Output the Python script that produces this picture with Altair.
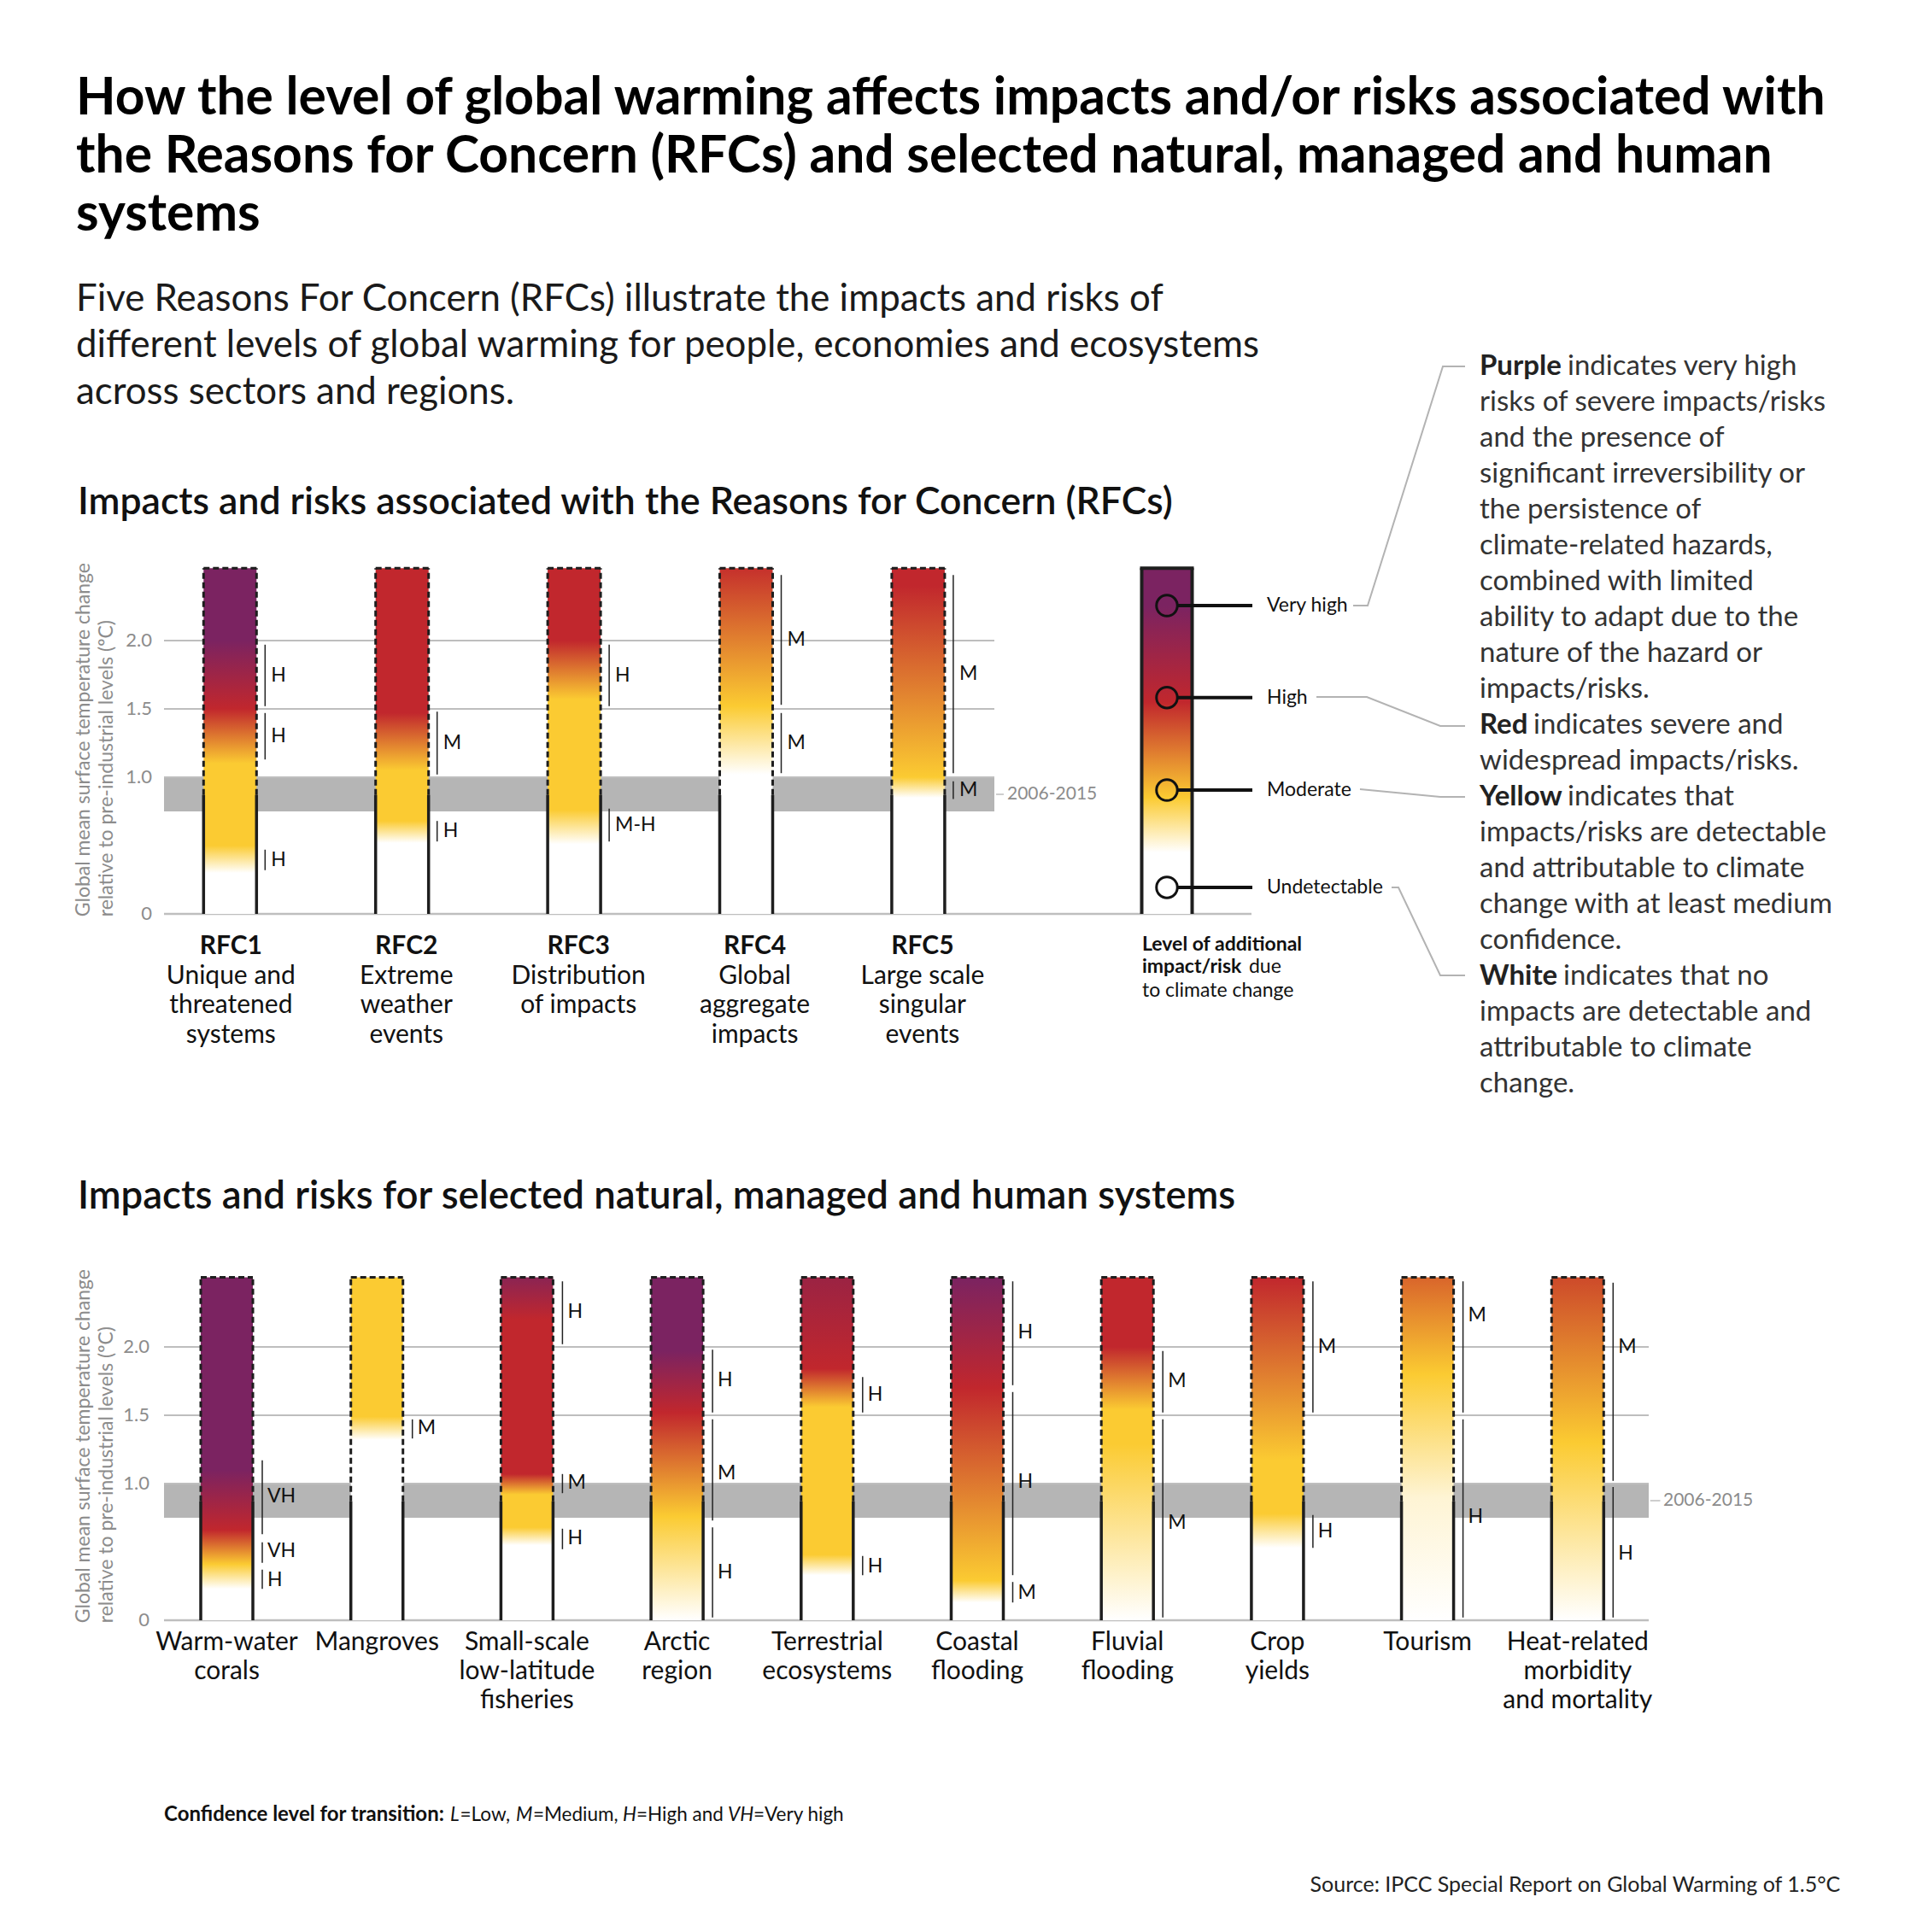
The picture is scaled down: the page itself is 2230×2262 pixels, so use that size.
import altair as alt
import pandas as pd

# ---------------- colours ----------------
PURPLE, RED, YELLOW, WHITE = "#7B2361", "#C1272D", "#FBCB32", "#FFFFFF"
INK = "#1E1E1E"
GREY = "#8C8C8C"
FONT = "Lato"

# ---------------- text ----------------
title_lines = [
    "How the level of global warming affects impacts and/or risks associated with",
    "the Reasons for Concern (RFCs) and selected natural, managed and human",
    "systems",
]
subtitle_lines = [
    "Five Reasons For Concern (RFCs) illustrate the impacts and risks of",
    "different levels of global warming for people, economies and ecosystems",
    "across sectors and regions.",
]
heading_top = "Impacts and risks associated with the Reasons for Concern (RFCs)"
heading_bottom = "Impacts and risks for selected natural, managed and human systems"
ytitle_lines = ["Global mean surface temperature change", "relative to pre-industrial levels (ºC)"]

# ---------------- axis ----------------
TICKS = [0.0, 1.0, 1.5, 2.0]
TICK_LABELS = ["0", "1.0", "1.5", "2.0"]
BAND = (0.75, 1.0)
BAND_LABEL = "2006-2015"
DASH_FROM = 0.87

# ---------------- Reasons for Concern ----------------
rfc_ids = ["RFC1", "RFC2", "RFC3", "RFC4", "RFC5"]
rfc_names = [["Unique and", "threatened", "systems"], ["Extreme", "weather", "events"],
             ["Distribution", "of impacts"], ["Global", "aggregate", "impacts"],
             ["Large scale", "singular", "events"]]
rfc_label_shift = [0.005, 0.025, 0.025, 0.05, 0.025]
RFC_TOP = 2.53
rfc_stops = [
    [(0.0, WHITE), (0.30, WHITE), (0.50, YELLOW), (1.10, YELLOW), (1.50, RED), (2.00, PURPLE), (2.53, PURPLE)],
    [(0.0, WHITE), (0.52, WHITE), (0.68, YELLOW), (1.05, YELLOW), (1.47, RED), (2.53, RED)],
    [(0.0, WHITE), (0.51, WHITE), (0.76, YELLOW), (1.57, YELLOW), (2.00, RED), (2.53, RED)],
    [(0.0, WHITE), (1.02, WHITE), (1.52, YELLOW), (2.53, "#C5302C")],
    [(0.0, WHITE), (0.85, WHITE), (1.00, YELLOW), (2.40, RED), (2.53, RED)],
]
rfc_conf = [
    [(1.52, 1.97, "H"), (1.13, 1.47, "H"), (0.32, 0.47, "H")],
    [(1.02, 1.48, "M"), (0.53, 0.68, "H")],
    [(1.52, 1.97, "H"), (0.53, 0.77, "M-H")],
    [(1.53, 2.48, "M"), (1.03, 1.47, "M")],
    [(1.03, 2.48, "M"), (0.84, 0.97, "M")],
]

# ---------------- selected systems ----------------
sys_names = [["Warm-water", "corals"], ["Mangroves"], ["Small-scale", "low-latitude", "fisheries"],
             ["Arctic", "region"], ["Terrestrial", "ecosystems"], ["Coastal", "flooding"],
             ["Fluvial", "flooding"], ["Crop", "yields"], ["Tourism"],
             ["Heat-related", "morbidity", "and mortality"]]
SYS_TOP = 2.51
sys_stops = [
    [(0.0, WHITE), (0.23, WHITE), (0.41, YELLOW), (0.66, RED), (1.10, PURPLE), (2.51, PURPLE)],
    [(0.0, WHITE), (1.32, WHITE), (1.49, YELLOW), (2.51, YELLOW)],
    [(0.0, WHITE), (0.55, WHITE), (0.68, YELLOW), (0.92, YELLOW), (1.07, RED), (2.20, RED), (2.51, "#8B2453")],
    [(0.0, WHITE), (0.76, YELLOW), (1.52, RED), (1.97, PURPLE), (2.51, PURPLE)],
    [(0.0, WHITE), (0.33, WHITE), (0.48, YELLOW), (1.56, YELLOW), (1.84, RED), (2.51, "#9B2343")],
    [(0.0, WHITE), (0.13, WHITE), (0.29, YELLOW), (1.70, RED), (2.51, PURPLE)],
    [(0.0, WHITE), (1.29, YELLOW), (1.54, YELLOW), (2.00, RED), (2.51, RED)],
    [(0.0, WHITE), (0.53, WHITE), (0.78, YELLOW), (1.17, YELLOW), (2.51, RED)],
    [(0.0, WHITE), (0.90, "#FEF4D4"), (1.80, YELLOW), (2.51, "#D9652B")],
    [(0.0, WHITE), (1.30, YELLOW), (2.51, "#CD4A2A")],
]
sys_conf = [
    [(0.63, 1.17, "VH", 0.906), (0.42, 0.57, "VH", 0.507), (0.23, 0.37, "H", 0.295)],
    [(1.33, 1.47, "M", 1.406)],
    [(2.02, 2.48, "H", 2.258), (0.93, 1.07, "M", 1.005), (0.52, 0.67, "H", 0.60)],
    [(1.52, 1.98, "H", 1.758), (0.73, 1.47, "M", 1.074), (0.02, 0.68, "H", 0.353)],
    [(1.52, 1.78, "H", 1.65), (0.33, 0.47, "H", 0.394)],
    [(1.72, 2.48, "H", 2.104), (0.33, 1.67, "H", 1.01), (0.13, 0.28, "M", 0.203)],
    [(1.52, 1.97, "M", 1.747), (0.02, 1.47, "M", 0.71)],
    [(1.52, 2.48, "M", 2.0), (0.53, 0.77, "H", 0.653)],
    [(1.52, 2.48, "M", 2.23), (0.02, 1.47, "H", 0.756)],
    [(1.02, 2.47, "M", 2.0), (0.02, 0.975, "H", 0.49)],
]

# ---------------- legend ----------------
legend_levels = ["Very high", "High", "Moderate", "Undetectable"]
legend_level_t = [2.256, 1.583, 0.906, 0.194]
legend_stops = [(0.0, WHITE), (0.45, WHITE), (0.85, YELLOW), (1.55, RED), (2.25, PURPLE), (2.53, PURPLE)]
legend_caption = [("Level of additional", True), ("impact/risk", True), ("due", False), ("to climate change", False)]

desc_lines = [
    "Purple indicates very high", "risks of severe impacts/risks", "and the presence of",
    "significant irreversibility or", "the persistence of", "climate-related hazards,",
    "combined with limited", "ability to adapt due to the", "nature of the hazard or",
    "impacts/risks.", "Red indicates severe and", "widespread impacts/risks.",
    "Yellow indicates that", "impacts/risks are detectable", "and attributable to climate",
    "change with at least medium", "confidence.", "White indicates that no",
    "impacts are detectable and", "attributable to climate", "change.",
]
desc_bold = {0: "Purple", 10: "Red", 12: "Yellow", 17: "White"}

footnote_parts = [("Confidence level  for transition:", "bold", "normal", 24), ("L", "normal", "italic", 22.5),
                  ("=Low,", "normal", "normal", 22.5), ("M", "normal", "italic", 22.5),
                  ("=Medium,", "normal", "normal", 22.5), ("H", "normal", "italic", 22.5),
                  ("=High and", "normal", "normal", 22.5), ("VH", "normal", "italic", 22.5),
                  ("=Very high", "normal", "normal", 22.5)]
source_text = "Source: IPCC Special Report on Global Warming of 1.5°C"

# ---------------- scales (panel units: bar slot, °C) ----------------
W, H = 2214, 2246
TX = alt.Scale(domain=[-1.29742, 9.69563], nice=False, zero=False)
TY = alt.Scale(domain=[-7.4, 6.6375], nice=False, zero=False)
BX = alt.Scale(domain=[-1.4656, 11.1355], nice=False, zero=False)
BY = alt.Scale(domain=[-2.23125, 11.80625], nice=False, zero=False)

layers = []


def X(s):
    return alt.X("x:Q", scale=s, axis=None)


def Y(s):
    return alt.Y("y:Q", scale=s, axis=None)


def rects(df, xs, ys, **mk):
    return alt.Chart(df).mark_rect(**mk).encode(x=X(xs), x2=alt.X2("x2:Q"), y=Y(ys), y2=alt.Y2("y2:Q"))


def vrules(df, xs, ys, **mk):
    return alt.Chart(df).mark_rule(**mk).encode(x=X(xs), y=Y(ys), y2=alt.Y2("y2:Q"))


def hrules(df, xs, ys, **mk):
    return alt.Chart(df).mark_rule(**mk).encode(x=X(xs), x2=alt.X2("x2:Q"), y=Y(ys))


def texts(df, xs, ys, **mk):
    mk.setdefault("font", FONT)
    return alt.Chart(df).mark_text(**mk).encode(x=X(xs), y=Y(ys), text=alt.Text("t:N"))


def gradient(stops, top):
    return alt.Gradient(gradient="linear", x1=0, x2=0, y1=1, y2=0,
                        stops=[alt.GradientStop(offset=round(t / top, 4), color=c) for t, c in stops])


def panel(xs, ys, stops_list, top_t, confs, hw, line_off, text_off, x_left, x_right, x_base,
          tick_x, band_lab_x, ytitle_x, heading, heading_x, heading_y, heading_size):
    n = len(stops_list)
    layers.append(rects(pd.DataFrame({"x": [x_left], "x2": [x_right], "y": [BAND[0]], "y2": [BAND[1]]}),
                        xs, ys, color="#B5B5B5"))
    layers.append(hrules(pd.DataFrame({"x": [x_left] * 3, "x2": [x_right] * 3, "y": TICKS[1:]}),
                         xs, ys, color="#BEBEBE", strokeWidth=2))
    layers.append(hrules(pd.DataFrame({"x": [x_left], "x2": [x_base], "y": [0.0]}),
                         xs, ys, color="#BEBEBE", strokeWidth=2.5))
    layers.append(texts(pd.DataFrame({"x": [tick_x] * 4, "y": TICKS, "t": TICK_LABELS}), xs, ys,
                        align="right", baseline="middle", fontSize=22, color=GREY))
    mid = (BAND[0] + BAND[1]) / 2
    layers.append(hrules(pd.DataFrame({"x": [x_right + 0.01], "x2": [band_lab_x - 0.02], "y": [mid]}),
                         xs, ys, color="#BEBEBE", strokeWidth=1.5))
    layers.append(texts(pd.DataFrame({"x": [band_lab_x], "y": [mid], "t": [BAND_LABEL]}), xs, ys,
                        align="left", baseline="middle", fontSize=21, color=GREY))
    layers.append(texts(pd.DataFrame({"x": ytitle_x, "y": [-0.02, -0.02], "t": ytitle_lines}), xs, ys,
                        align="left", baseline="middle", angle=270, fontSize=23, color=GREY))
    layers.append(texts(pd.DataFrame({"x": [heading_x], "y": [heading_y], "t": [heading]}), xs, ys,
                        align="left", baseline="middle", fontSize=heading_size, fontWeight=600, color="#111111"))
    for i, stops in enumerate(stops_list):
        layers.append(rects(pd.DataFrame({"x": [i - hw], "x2": [i + hw], "y": [0.0], "y2": [top_t]}),
                            xs, ys, fill=gradient(stops, top_t)))
    ex = [i + s * hw for i in range(n) for s in (-1, 1)]
    layers.append(vrules(pd.DataFrame({"x": ex, "y": [0.0] * len(ex), "y2": [DASH_FROM] * len(ex)}),
                         xs, ys, color=INK, strokeWidth=3.5))
    layers.append(vrules(pd.DataFrame({"x": ex, "y": [DASH_FROM] * len(ex), "y2": [top_t] * len(ex)}),
                         xs, ys, color=INK, strokeWidth=3, strokeDash=[7, 4]))
    layers.append(hrules(pd.DataFrame({"x": [i - hw for i in range(n)], "x2": [i + hw for i in range(n)],
                                       "y": [top_t] * n}), xs, ys, color=INK, strokeWidth=3, strokeDash=[7, 4]))
    seg = {"x": [], "y": [], "y2": []}
    lab = {"x": [], "y": [], "t": []}
    for i, cl in enumerate(confs):
        for c in cl:
            lo, hi, t = c[0], c[1], c[2]
            ly = c[3] if len(c) > 3 else (lo + hi) / 2
            seg["x"].append(i + hw + line_off)
            seg["y"].append(lo)
            seg["y2"].append(hi)
            lab["x"].append(i + hw + line_off + text_off)
            lab["y"].append(ly)
            lab["t"].append(t)
    layers.append(vrules(pd.DataFrame(seg), xs, ys, color="#222222", strokeWidth=1.5))
    layers.append(texts(pd.DataFrame(lab), xs, ys, align="left", baseline="middle", fontSize=23, color="#111111"))


# ---------------- top panel ----------------
panel(TX, TY, rfc_stops, RFC_TOP, rfc_conf, 0.1539, 0.0497, 0.0348, -0.3838, 4.4424, 5.9369,
      -0.4533, 4.5169, [-0.8505, -0.7165], heading_top, -0.8853, 3.005, 44.5)

top_name_y = [-0.24, -0.455, -0.671, -0.886]
rows = {"x": [], "y": [], "t": []}
for i, lines in enumerate(rfc_names):
    for k, s in enumerate(lines):
        rows["x"].append(i + rfc_label_shift[i])
        rows["y"].append(top_name_y[k + 1])
        rows["t"].append(s)
layers.append(texts(pd.DataFrame({"x": [i + d for i, d in enumerate(rfc_label_shift)],
                                  "y": [top_name_y[0]] * 5, "t": rfc_ids}), TX, TY,
                    align="center", baseline="middle", fontSize=30, fontWeight="bold", color="#111111"))
layers.append(texts(pd.DataFrame(rows), TX, TY, align="center", baseline="middle", fontSize=30, color="#111111"))

# legend bar
LX, LHW = 5.4454, 0.1465
layers.append(rects(pd.DataFrame({"x": [LX - LHW], "x2": [LX + LHW], "y": [0.0], "y2": [RFC_TOP]}), TX, TY,
                    fill=gradient(legend_stops, RFC_TOP)))
layers.append(vrules(pd.DataFrame({"x": [LX - LHW, LX + LHW], "y": [0.0, 0.0], "y2": [RFC_TOP, RFC_TOP]}),
                     TX, TY, color=INK, strokeWidth=4))
layers.append(hrules(pd.DataFrame({"x": [LX - LHW - 0.01], "x2": [LX + LHW + 0.01], "y": [RFC_TOP]}),
                     TX, TY, color=INK, strokeWidth=4))
layers.append(hrules(pd.DataFrame({"x": [5.5074] * 4, "x2": [5.9419] * 4, "y": legend_level_t}),
                     TX, TY, color="#111111", strokeWidth=4))
layers.append(alt.Chart(pd.DataFrame({"x": [LX] * 4, "y": legend_level_t})).mark_point(
    shape="circle", filled=False, size=600, strokeWidth=3, color="#111111", opacity=1).encode(x=X(TX), y=Y(TY)))
layers.append(texts(pd.DataFrame({"x": [6.0263] * 4, "y": legend_level_t, "t": legend_levels}), TX, TY,
                    align="left", baseline="middle", fontSize=23, color="#111111"))

leader = {
    "g": [0] * 4 + [1] * 4 + [2] * 3 + [3] * 4,
    "i": [0, 1, 2, 3, 0, 1, 2, 3, 0, 1, 2, 0, 1, 2, 3],
    "x": [6.5278, 6.6122, 7.0492, 7.1783, 6.3143, 6.6072, 7.0343, 7.1783, 6.5675, 7.0343, 7.1783,
          6.7512, 6.7910, 7.0343, 7.1783],
    "y": [2.256, 2.256, 4.006, 4.006, 1.5875, 1.5875, 1.375, 1.375, 0.9125, 0.856, 0.856, 0.194, 0.194, -0.45, -0.45],
}
layers.append(alt.Chart(pd.DataFrame(leader)).mark_line(color="#B3B3B3", strokeWidth=2).encode(
    x=X(TX), y=Y(TY), detail="g:N", order="i:Q"))

cap_x = [5.3014, 5.3014, 5.9220, 5.3014]
cap_y = [-0.225, -0.3875, -0.3875, -0.5625]
for (s, b), cx, cy in zip(legend_caption, cap_x, cap_y):
    layers.append(texts(pd.DataFrame({"x": [cx], "y": [cy], "t": [s]}), TX, TY, align="left", baseline="middle",
                        fontSize=23, fontWeight="bold" if b else "normal", color="#111111"))

# description block
DESC_X = 7.2627
rest_x = {0: 7.7741, 10: 7.5755, 12: 7.7741, 17: 7.7493}
d_plain = {"x": [], "y": [], "t": []}
d_bold = {"x": [], "y": [], "t": []}
for i, line in enumerate(desc_lines):
    yv = (1070 - (428.8 + 42 * i)) / 160
    if i in desc_bold:
        w = desc_bold[i]
        d_bold["x"].append(DESC_X)
        d_bold["y"].append(yv)
        d_bold["t"].append(w)
        d_plain["x"].append(rest_x[i])
        d_plain["y"].append(yv)
        d_plain["t"].append(line[len(w) + 1:])
    else:
        d_plain["x"].append(DESC_X)
        d_plain["y"].append(yv)
        d_plain["t"].append(line)
layers.append(texts(pd.DataFrame(d_plain), TX, TY, align="left", baseline="middle", fontSize=33, color="#333333"))
layers.append(texts(pd.DataFrame(d_bold), TX, TY, align="left", baseline="middle", fontSize=33,
                    fontWeight="bold", color="#222222"))

# main title & subtitle
layers.append(texts(pd.DataFrame({"x": [-0.8952] * 3, "y": [5.85, 5.425, 5.0], "t": title_lines}), TX, TY,
                    align="left", baseline="alphabetic", fontSize=60.5, fontWeight="bold", color="#000000"))
layers.append(texts(pd.DataFrame({"x": [-0.8952] * 3, "y": [4.4125, 4.072, 3.731], "t": subtitle_lines}), TX, TY,
                    align="left", baseline="alphabetic", fontSize=43.8, color="#1A1A1A"))

# ---------------- bottom panel ----------------
panel(BX, BY, sys_stops, SYS_TOP, sys_conf, 0.1736, 0.0626, 0.034, -0.4183, 9.4735, 9.4735,
      -0.5151, 9.5703, [-0.9533, -0.7997], heading_bottom, -0.9932, 3.10, 45.5)

bot_name_y = [-0.164, -0.3725, -0.59]
rows = {"x": [], "y": [], "t": []}
for i, lines in enumerate(sys_names):
    for k, s in enumerate(lines):
        rows["x"].append(i)
        rows["y"].append(bot_name_y[k])
        rows["t"].append(s)
layers.append(texts(pd.DataFrame(rows), BX, BY, align="center", baseline="middle", fontSize=30, color="#111111"))

foot_x = [-0.4183, 1.4883, 1.5538, 1.9266, 2.0404, 2.6380, 2.7291, 3.3381, 3.5088]
for (s, wgt, sty, fs), fx in zip(footnote_parts, foot_x):
    layers.append(texts(pd.DataFrame({"x": [fx], "y": [-1.426], "t": [s]}), BX, BY, align="left",
                        baseline="middle", fontSize=fs, fontWeight=wgt, fontStyle=sty, color="#111111"))
layers.append(texts(pd.DataFrame({"x": [10.75], "y": [-1.935], "t": [source_text]}), BX, BY, align="right",
                    baseline="middle", fontSize=25, color="#222222"))

chart = alt.layer(*layers).resolve_scale(x="independent", y="independent").properties(
    width=W, height=H, padding=0, autosize=alt.AutoSizeParams(type="none"), background="white"
).configure_view(strokeWidth=0)

chart.save("out.html", embed_options={"renderer": "svg", "actions": False})
